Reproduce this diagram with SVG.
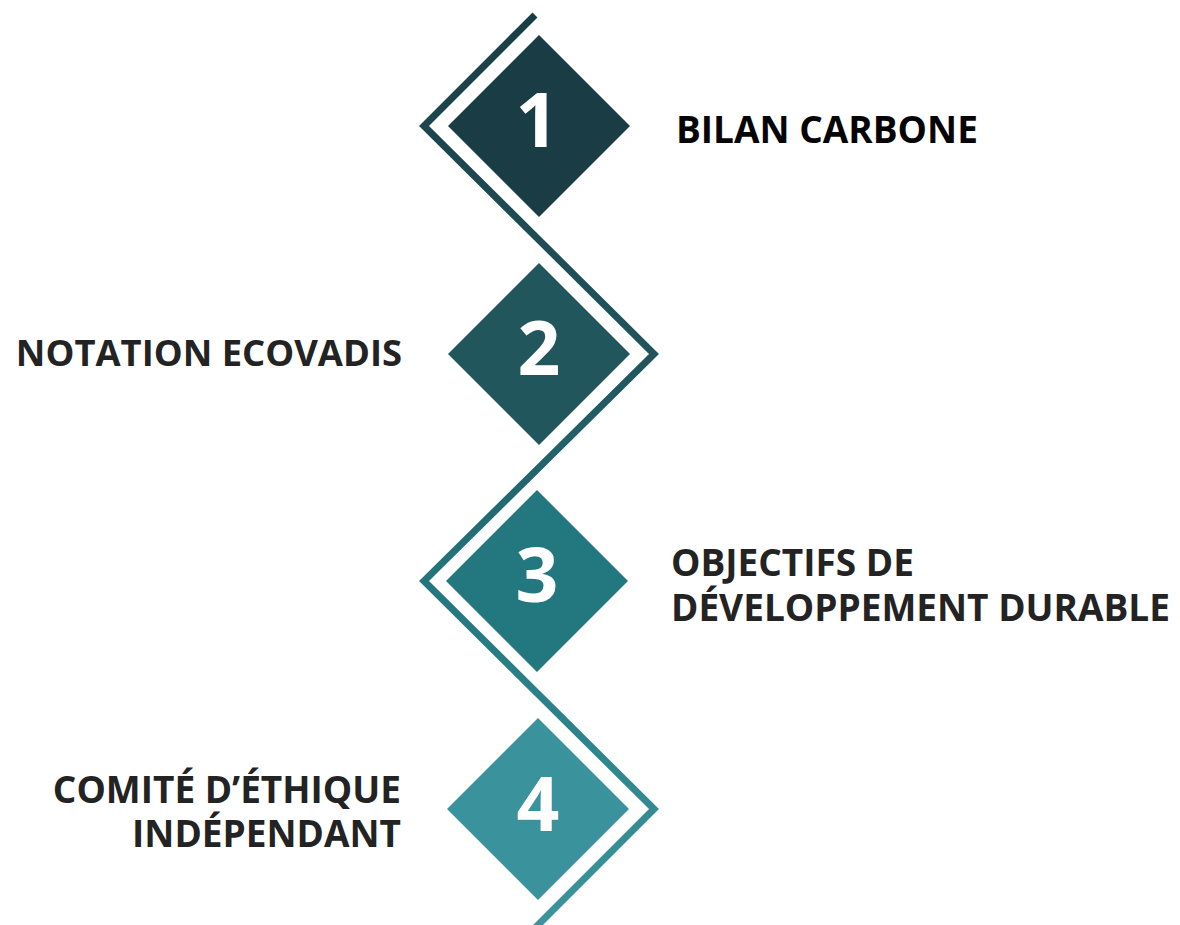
<svg xmlns="http://www.w3.org/2000/svg" width="1180" height="925" viewBox="0 0 1180 925">
  <style>
    .num { font-family: "Open Sans", "Liberation Sans", sans-serif; font-weight: 700; font-size: 75px; fill: #ffffff; text-anchor: middle; }
    .lbl { font-family: "Open Sans", "Liberation Sans", sans-serif; font-weight: 700; font-size: 37px; fill: #232323; }
    .lbl1 { fill: #050505; }
    .lbl2 { font-size: 36.4px; }
    .right { text-anchor: end; }
  </style>
  <defs>
    <linearGradient id="lineGrad" gradientUnits="userSpaceOnUse" x1="0" y1="0" x2="0" y2="925">
      <stop offset="0" stop-color="#193c44"/>
      <stop offset="0.4" stop-color="#21565d"/>
      <stop offset="0.65" stop-color="#247880"/>
      <stop offset="1" stop-color="#3b949e"/>
    </linearGradient>
  </defs>
  <g id="connectors">
    <polyline points="535,15 424,126 654,354 424,581 654,809 533,930" fill="none" stroke="url(#lineGrad)" stroke-width="7" stroke-linejoin="miter" stroke-miterlimit="10" stroke-linecap="butt"/>
  </g>
  <g id="node1">
    <polygon points="539,35 630,126 539,217 448,126" fill="#1a3d45"/>
    <text class="num" x="537" y="147">1</text>
    <text class="lbl lbl1" x="676" y="143">BILAN CARBONE</text>
  </g>
  <g id="node2">
    <polygon points="539,263 630,354 539,445 448,354" fill="#21565c"/>
    <text class="num" x="539" y="375">2</text>
    <text class="lbl lbl2 right" x="402" y="366">NOTATION ECOVADIS</text>
  </g>
  <g id="node3">
    <polygon points="537,490 628,581 537,672 446,581" fill="#23777f"/>
    <text class="num" x="537" y="602">3</text>
    <text class="lbl" x="671" y="576">OBJECTIFS DE</text>
    <text class="lbl" x="671" y="621">DÉVELOPPEMENT DURABLE</text>
  </g>
  <g id="node4">
    <polygon points="538,718 629,809 538,900 447,809" fill="#3a929d"/>
    <text class="num" x="538" y="831">4</text>
    <text class="lbl right" x="401" y="803">COMITÉ D’ÉTHIQUE</text>
    <text class="lbl right" x="401" y="847">INDÉPENDANT</text>
  </g>
</svg>
